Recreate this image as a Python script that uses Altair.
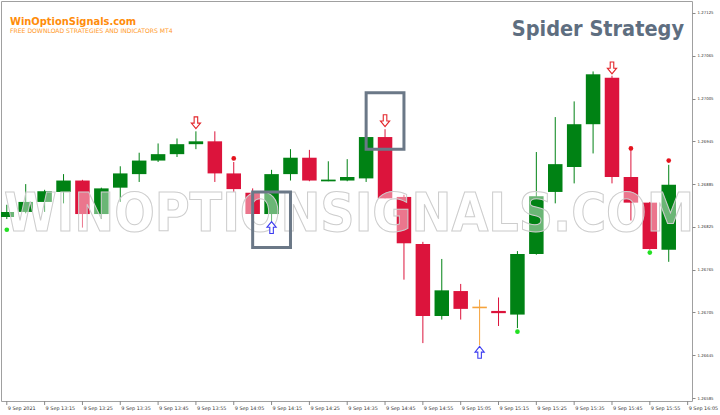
import altair as alt
import pandas as pd

# ---- 5-minute candles, 9 Sep 2021 -------------------------------------------
times = ["13:05", "13:10", "13:15", "13:20", "13:25", "13:30", "13:35", "13:40", "13:45",
         "13:50", "13:55", "14:00", "14:05", "14:10", "14:15", "14:20", "14:25", "14:30",
         "14:35", "14:40", "14:45", "14:50", "14:55", "15:00", "15:05", "15:10", "15:15",
         "15:20", "15:25", "15:30", "15:35", "15:40", "15:45", "15:50", "15:55", "16:00"]
opens = [1.26839, 1.26846, 1.26860, 1.26874, 1.26890, 1.26843, 1.26880, 1.26899, 1.26918,
         1.26927, 1.26941, 1.26945, 1.26900, 1.26873, 1.26843, 1.26899, 1.26922, 1.26890,
         1.26890, 1.26893, 1.26951, 1.26867, 1.26801, 1.26700, 1.26735, 1.26712, 1.26706,
         1.26702, 1.26787, 1.26874, 1.26909, 1.26969, 1.27034, 1.26895, 1.26859, 1.26793]
highs = [1.26856, 1.26885, 1.26877, 1.26899, 1.26891, 1.26880, 1.26910, 1.26929, 1.26942,
         1.26949, 1.26959, 1.26959, 1.26916, 1.26879, 1.26905, 1.26934, 1.26933, 1.26917,
         1.26920, 1.26951, 1.26962, 1.26870, 1.26804, 1.26780, 1.26745, 1.26723, 1.26726,
         1.26791, 1.26930, 1.26979, 1.27001, 1.27043, 1.27037, 1.26933, 1.26860, 1.26912]
lows = [1.26836, 1.26844, 1.26846, 1.26858, 1.26824, 1.26836, 1.26860, 1.26888, 1.26916,
        1.26923, 1.26934, 1.26888, 1.26874, 1.26842, 1.26830, 1.26890, 1.26889, 1.26889,
        1.26889, 1.26888, 1.26865, 1.26751, 1.26662, 1.26695, 1.26695, 1.26659, 1.26686,
        1.26683, 1.26786, 1.26858, 1.26886, 1.26928, 1.26886, 1.26834, 1.26793, 1.26776]
closes = [1.26846, 1.26860, 1.26875, 1.26890, 1.26843, 1.26879, 1.26900, 1.26918, 1.26927,
          1.26941, 1.26945, 1.26900, 1.26878, 1.26843, 1.26899, 1.26922, 1.26890, 1.26891,
          1.26895, 1.26951, 1.26865, 1.26802, 1.26700, 1.26736, 1.26710, 1.26712, 1.26704,
          1.26787, 1.26868, 1.26913, 1.26969, 1.27039, 1.26895, 1.26859, 1.26794, 1.26884]

# ---- Spider Strategy signals -------------------------------------------------
sell_arrow_idx = [10, 20, 32]
sell_arrow_price = [1.26971, 1.26974, 1.27048]
buy_arrow_idx = [14, 25]
buy_arrow_price = [1.26824, 1.26649]
red_dot_idx = [12, 33, 35]
red_dot_price = [1.26921, 1.26935, 1.26918]
green_dot_idx = [0, 27, 34]
green_dot_price = [1.26821, 1.26678, 1.26789]
# highlighted signal candles: centre index and price range of the frame
box_idx = [14, 20]
box_low = [1.26796, 1.26934]
box_high = [1.26874, 1.27013]

# ---- axes --------------------------------------------------------------------
x_tick_idx = [0, 2, 4, 6, 8, 10, 12, 14, 16, 18, 20, 22, 24, 26, 28, 30, 32, 34, 36]
x_tick_text = ["9 Sep 2021", "9 Sep 13:15", "9 Sep 13:25", "9 Sep 13:35", "9 Sep 13:45",
               "9 Sep 13:55", "9 Sep 14:05", "9 Sep 14:15", "9 Sep 14:25", "9 Sep 14:35",
               "9 Sep 14:45", "9 Sep 14:55", "9 Sep 15:05", "9 Sep 15:15", "9 Sep 15:25",
               "9 Sep 15:35", "9 Sep 15:45", "9 Sep 15:55", "9 Sep 16:05"]
y_ticks = [1.26585, 1.26615, 1.26645, 1.26675, 1.26705, 1.26735, 1.26765, 1.26795, 1.26825,
           1.26855, 1.26885, 1.26915, 1.26945, 1.26975, 1.27005, 1.27035, 1.27065, 1.27095,
           1.27125]

watermark = "WINOPTIONSIGNALS.COM"

# ---- styling -----------------------------------------------------------------
UP, DOWN, FLAT = "#008214", "#dc143c", "#f5a33c"
COND = "DejaVu Sans Condensed, sans-serif"
AXIS_FONT = "DejaVu Sans"
W, H = 691, 400
BODY = 14.5

candles = pd.DataFrame({"idx": list(range(len(times))), "time": times, "open": opens,
                        "high": highs, "low": lows, "close": closes})
candles["col"] = [UP if c > o else DOWN if c < o else FLAT for o, c in zip(opens, closes)]
candles["flat"] = [abs(c - o) < 0.00003 for o, c in zip(opens, closes)]

xs = alt.Scale(domain=[-0.042, 35.966], nice=False, zero=False)
ys = alt.Scale(domain=[1.265808, 1.271418], nice=False, zero=False)

y_axis = alt.Axis(orient="right", values=y_ticks, format=".5f", title=None, grid=False,
                  domain=False, tickSize=3, tickColor="#8a8a8a", labelFontSize=3.9,
                  labelColor="#333333", labelFont=AXIS_FONT, labelPadding=2)

wicks = alt.Chart(candles).mark_rule(strokeWidth=1, clip=True).encode(
    x=alt.X("idx:Q", scale=xs, axis=None),
    y=alt.Y("low:Q", scale=ys, axis=y_axis),
    y2="high:Q",
    color=alt.Color("col:N", scale=None),
)
bodies = alt.Chart(candles).mark_bar(width=BODY, clip=True).encode(
    x="idx:Q", y="open:Q", y2="close:Q", color=alt.Color("col:N", scale=None),
)
flat_bodies = alt.Chart(candles).transform_filter("datum.flat").mark_tick(
    orient="horizontal", thickness=1.6, size=BODY, opacity=1
).encode(x="idx:Q", y="open:Q", color=alt.Color("col:N", scale=None))

# translucent watermark across the middle of the chart
wm_layer = alt.Chart(pd.DataFrame({"t": [watermark]})).mark_text(
    font=COND, fontSize=53, fontWeight="bold", align="center", baseline="alphabetic",
    fill="white", fillOpacity=0.42, stroke="#cdcdcd", strokeWidth=1,
).encode(x=alt.value(348), y=alt.value(230), text="t:N")

red_dots = alt.Chart(pd.DataFrame({"idx": red_dot_idx, "p": red_dot_price})).mark_circle(
    size=22, color="#e5131d", opacity=1).encode(x="idx:Q", y="p:Q")
green_dots = alt.Chart(pd.DataFrame({"idx": green_dot_idx, "p": green_dot_price})).mark_circle(
    size=22, color="#22e022", opacity=1).encode(x="idx:Q", y="p:Q")

DOWN_ARROW = "M-0.3,-1 L0.3,-1 L0.3,0.05 L0.78,0.05 L0,1 L-0.78,0.05 L-0.3,0.05 Z"
UP_ARROW = "M-0.3,1 L0.3,1 L0.3,-0.05 L0.78,-0.05 L0,-1 L-0.78,-0.05 L-0.3,-0.05 Z"
sell_arrows = alt.Chart(pd.DataFrame({"idx": sell_arrow_idx, "p": sell_arrow_price})).mark_point(
    shape=DOWN_ARROW, size=140, fill="white", fillOpacity=1, stroke="#e3262b",
    strokeWidth=1.1, opacity=1).encode(x="idx:Q", y="p:Q")
buy_arrows = alt.Chart(pd.DataFrame({"idx": buy_arrow_idx, "p": buy_arrow_price})).mark_point(
    shape=UP_ARROW, size=140, fill="white", fillOpacity=1, stroke="#3c3cf0",
    strokeWidth=1.1, opacity=1).encode(x="idx:Q", y="p:Q")

boxes = alt.Chart(pd.DataFrame({"idx": box_idx, "lo": box_low, "hi": box_high})).transform_calculate(
    x1="datum.idx - 1", x2="datum.idx + 1"
).mark_rect(fill="transparent", stroke="#6b7887", strokeWidth=3).encode(
    x="x1:Q", x2="x2:Q", y="lo:Q", y2="hi:Q")

ticks_df = pd.DataFrame({"pos": x_tick_idx, "lab": x_tick_text})
x_ticks = alt.Chart(ticks_df).mark_rule(color="#8a8a8a", strokeWidth=1).encode(
    x="pos:Q", y=alt.value(H), y2=alt.value(H + 4))
x_labels = alt.Chart(ticks_df).mark_text(
    align="left", baseline="alphabetic", fontSize=4.9, font=AXIS_FONT, color="#333333", dx=1
).encode(x="pos:Q", y=alt.value(H + 9), text="lab:N")

title = alt.Chart(pd.DataFrame({"t": ["Spider Strategy"]})).mark_text(
    font=COND, fontSize=21.5, fontWeight="bold", align="right", baseline="alphabetic",
    color="#5e6e80").encode(x=alt.value(683), y=alt.value(35), text="t:N")
logo = alt.Chart(pd.DataFrame({"t": ["WinOptionSignals.com"]})).mark_text(
    font=COND, fontSize=11, fontWeight="bold", align="left", baseline="alphabetic",
    color="#ff8c0a").encode(x=alt.value(9), y=alt.value(24), text="t:N")
slogan = alt.Chart(pd.DataFrame({"t": ["FREE DOWNLOAD STRATEGIES AND INDICATORS MT4"]})).mark_text(
    font="DejaVu Sans", fontSize=6.1, align="left", baseline="alphabetic",
    color="#ff9a2a").encode(x=alt.value(9), y=alt.value(32), text="t:N")

chart = alt.layer(
    wicks, bodies, flat_bodies, wm_layer, red_dots, green_dots, sell_arrows, buy_arrows,
    boxes, x_ticks, x_labels, title, logo, slogan,
).properties(
    width=W, height=H, autosize=alt.AutoSizeParams(type="none"),
    padding={"left": 1, "top": 1, "right": 28, "bottom": 14},
    background="white",
).configure_view(stroke="#a0a0a0", strokeWidth=1)

chart.save("out.html", embed_options={"renderer": "svg", "actions": False})
